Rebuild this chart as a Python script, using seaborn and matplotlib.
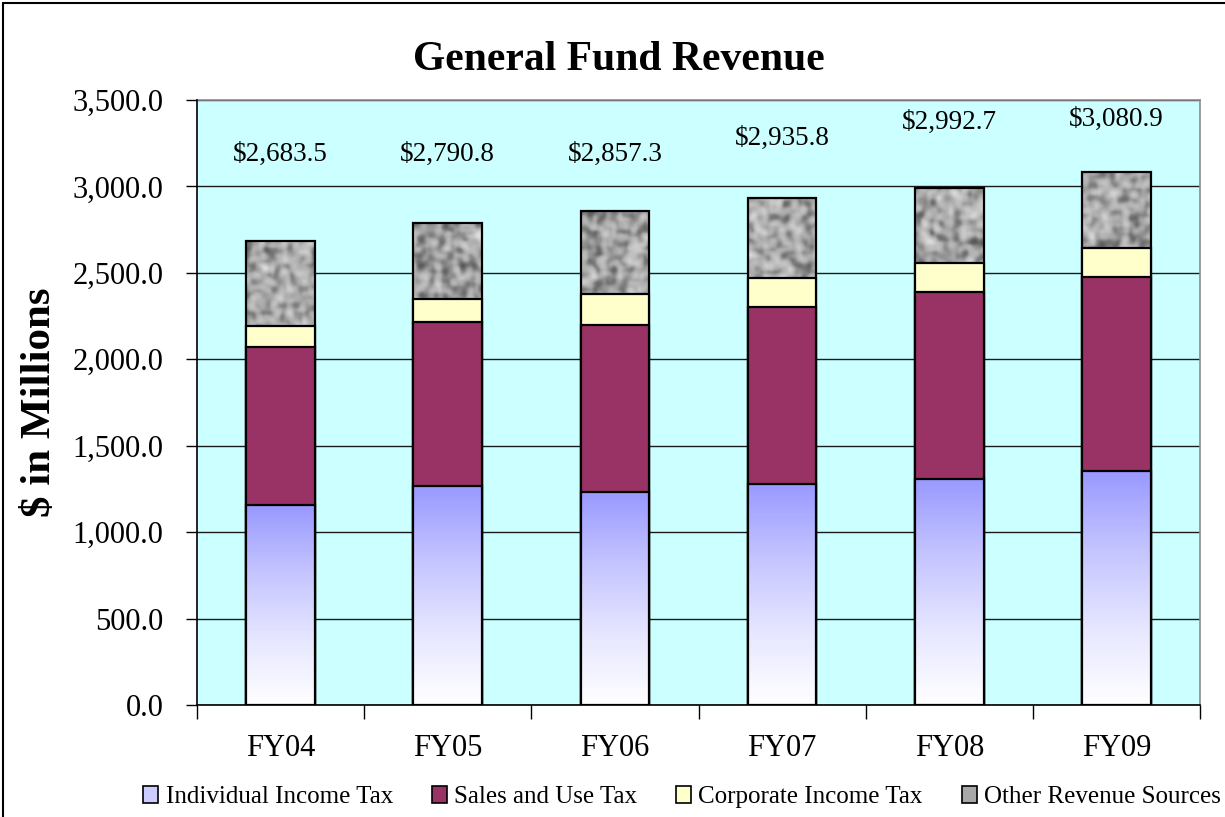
#!/usr/bin/env python3
"""
General Fund Revenue - stacked bars by revenue source, FY04-FY09
"""

import numpy as np
import pandas as pd
import matplotlib
matplotlib.use('Agg')
import matplotlib.pyplot as plt
import seaborn as sns
from matplotlib.colors import LinearSegmentedColormap
from matplotlib.patches import Patch
from matplotlib.ticker import FixedLocator, FuncFormatter

# ---- data ($ in millions) ----
years = ['FY04', 'FY05', 'FY06', 'FY07', 'FY08', 'FY09']
individual_income = [1155.0, 1265.0, 1232.0, 1279.0, 1309.0, 1352.0]
sales_and_use = [915.0, 948.0, 969.0, 1023.0, 1080.0, 1126.0]
corporate_income = [122.0, 133.0, 178.0, 166.0, 166.0, 166.0]
totals = [2683.5, 2790.8, 2857.3, 2935.8, 2992.7, 3080.9]
series_names = ['Individual Income Tax', 'Sales and Use Tax',
                'Corporate Income Tax', 'Other Revenue Sources']

# where the total labels sit (data units)
label_y = [3187, 3187, 3187, 3280, 3373, 3390]

df = pd.DataFrame({'year': years,
                   'individual': individual_income,
                   'sales': sales_and_use,
                   'corporate': corporate_income,
                   'total': totals})
df['cum_sales'] = df['individual'] + df['sales']
df['cum_corp'] = df['cum_sales'] + df['corporate']

sns.set_theme(style='white')
plt.rcParams['font.family'] = ['Liberation Serif', 'DejaVu Serif']
plt.rcParams['text.color'] = 'black'
plt.rcParams['xtick.color'] = 'black'
plt.rcParams['ytick.color'] = 'black'
plt.rcParams['axes.labelcolor'] = 'black'

fig = plt.figure(figsize=(12.25, 8.17), dpi=100)
fig.patch.set_facecolor('white')
ax = fig.add_axes([197 / 1225, 112 / 817, 1003 / 1225, 605 / 817])
ax.set_facecolor('#CCFFFF')

BAR_W = 0.41
EDGE_LW = 1.6
PX_PER_UNIT = 605 / 3500  # vertical pixels per data unit


def draw_layer(col, color, z):
    n_before = len(ax.patches)
    sns.barplot(data=df, x='year', y=col, color=color, saturation=1,
                width=BAR_W, edgecolor='black', linewidth=EDGE_LW, ax=ax)
    new = ax.patches[n_before:]
    for p in new:
        p.set_zorder(z)
    return new


def put_image(p, pic, cmap, z, interp='bilinear'):
    x0, y0 = p.get_x(), p.get_y()
    w, h = p.get_width(), p.get_height()
    im = ax.imshow(pic, cmap=cmap, extent=(x0, x0 + w, y0, y0 + h),
                   aspect='auto', origin='lower', zorder=z - 0.05,
                   interpolation=interp, vmin=0, vmax=1)
    im.set_clip_path(p)
    p.set_facecolor('none')


def speckle(rows, cols, shift):
    # deterministic hash-noise, lightly smoothed -> mottled stone look
    j, i = np.mgrid[0:rows, 0:cols].astype(float)
    v = np.sin(i * 12.9898 + j * 78.233 + shift * 37.719) * 43758.5453
    v = v - np.floor(v)
    s = (2 * v + np.roll(v, 1, 0) + np.roll(v, -1, 0)
         + np.roll(v, 1, 1) + np.roll(v, -1, 1)) / 6
    s = (s - s.min()) / (s.max() - s.min())
    return s


granite = LinearSegmentedColormap.from_list(
    'granite', [(0.0, '#3a3a3a'), (0.3, '#7a7a7a'), (0.5, '#aaaaaa'),
                (0.7, '#c6c6c6'), (1.0, '#eeeeee')])

# vertical gradient for "Individual Income Tax"
grad = np.linspace(0, 1, 256).reshape(-1, 1)
blue_grad = LinearSegmentedColormap.from_list('bg', ['#FFFFFF', '#E6E6FF', '#C4C4FF', '#9999FF'])

other_patches = draw_layer('total', '#B4B4B4', 2.1)
for k, p in enumerate(other_patches):
    n_rows = max(2, int(round(p.get_height() * PX_PER_UNIT / 3.2)))
    put_image(p, speckle(n_rows, 22, k + 1), granite, 2.1, interp='bicubic')
draw_layer('cum_corp', '#FFFFCC', 3.1)
draw_layer('cum_sales', '#993366', 4.1)
ind_patches = draw_layer('individual', '#9999FF', 5.1)
for p in ind_patches:
    put_image(p, grad, blue_grad, 5.1)

# total labels
for i, (t, ly) in enumerate(zip(totals, label_y)):
    ax.text(i, ly, f'${t:,.1f}', ha='center', va='center', fontsize=19.5,
            color='black', zorder=6)

# axes styling
ax.set_xlim(-0.5, 5.5)
ax.set_ylim(0, 3500)
ax.yaxis.set_major_locator(FixedLocator(np.arange(0, 3501, 500)))
ax.yaxis.set_major_formatter(FuncFormatter(lambda v, _: f'{v:,.1f}'))
ax.tick_params(axis='y', direction='out', length=8, width=1, color='black',
               labelsize=22, pad=16, left=True, labelcolor='black')
ax.grid(axis='y', color='#1a1a1a', linewidth=1.0, zorder=0.5)
ax.set_axisbelow(True)

ax.xaxis.set_major_locator(FixedLocator(np.arange(-0.5, 6, 1)))
ax.xaxis.set_major_formatter(FuncFormatter(lambda v, _: ''))
ax.set_xticks(np.arange(0, 6), labels=years, minor=True)
ax.tick_params(axis='x', which='major', direction='out', length=10, width=1,
               color='black', bottom=True)
ax.tick_params(axis='x', which='minor', length=0, labelsize=22, pad=21,
               labelcolor='black')
ax.set_xlabel('')
ax.set_ylabel('')

for side in ['left', 'bottom']:
    ax.spines[side].set_color('black')
    ax.spines[side].set_linewidth(1.2)
for side in ['top', 'right']:
    ax.spines[side].set_color('#8c8c8c')
    ax.spines[side].set_linewidth(1.2)
ax.spines['bottom'].set_zorder(7)
ax.spines['left'].set_zorder(7)

# title and y label
fig.text(619 / 1225, 1 - 60 / 817, 'General Fund Revenue', ha='center', va='center',
         fontsize=30, fontweight='bold', color='black')
fig.text(40 / 1225, 1 - 402 / 817, '$ in Millions', ha='center', va='center',
         rotation=90, fontsize=31, fontweight='bold', color='black')

# legend
handles = [Patch(facecolor='#CCCCFF', edgecolor='black', linewidth=1.2),
           Patch(facecolor='#993366', edgecolor='black', linewidth=1.2),
           Patch(facecolor='#FFFFCC', edgecolor='black', linewidth=1.2),
           Patch(facecolor='#A8A8A8', edgecolor='black', linewidth=1.2)]
leg = fig.legend(handles, series_names, loc='center', bbox_to_anchor=(682 / 1225, 1 - 797 / 817),
                 ncol=4, frameon=False, fontsize=18, handlelength=0.6, handleheight=0.65,
                 handletextpad=0.3, columnspacing=1.55, borderaxespad=0)
for t in leg.get_texts():
    t.set_color('black')

# outer chart border (top and left edges visible)
fig.add_artist(plt.Line2D([3 / 1225, 1], [1 - 3 / 817, 1 - 3 / 817],
                          transform=fig.transFigure, color='black', linewidth=1.5))
fig.add_artist(plt.Line2D([3 / 1225, 3 / 1225], [0, 1 - 3 / 817],
                          transform=fig.transFigure, color='black', linewidth=1.5))

fig.savefig('out.png', dpi=100, facecolor='white')
plt.close(fig)
